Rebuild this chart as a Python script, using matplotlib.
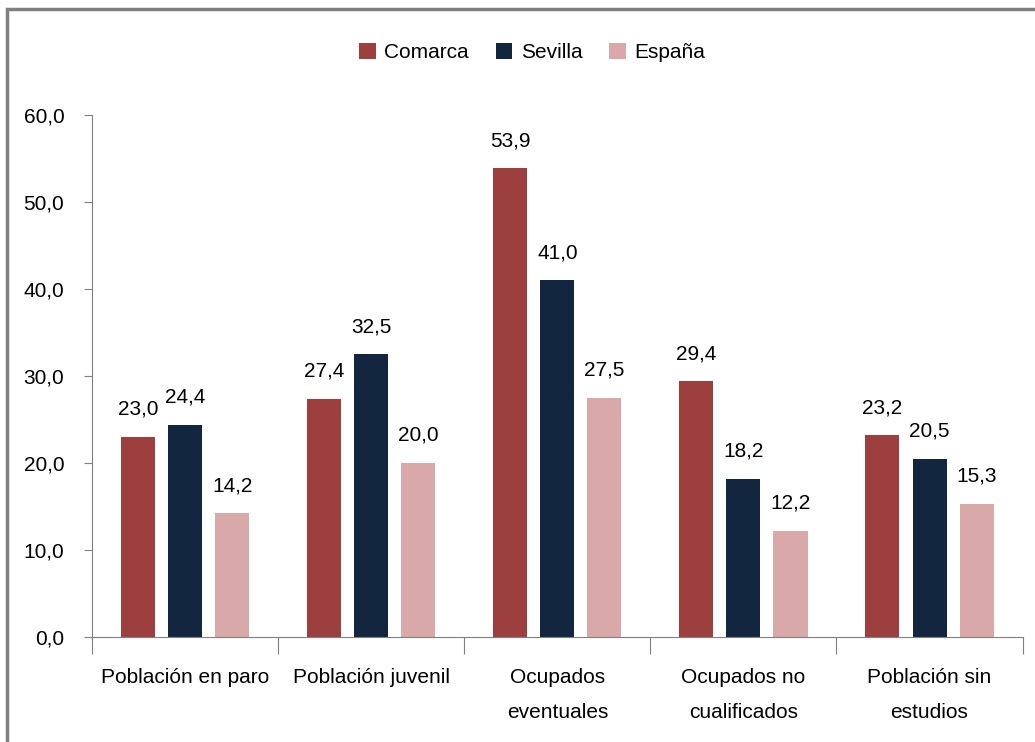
#Grouped bar chart: Comarca vs Sevilla vs España
import numpy as np
import matplotlib.pyplot as plt
from matplotlib.patches import Rectangle

#data
categories = ["Población en paro", "Población juvenil", "Ocupados\neventuales",
              "Ocupados no\ncualificados", "Población sin\nestudios"]
comarca = [23.0, 27.4, 53.9, 29.4, 23.2]
sevilla = [24.4, 32.5, 41.0, 18.2, 20.5]
espana = [14.2, 20.0, 27.5, 12.2, 15.3]
series_names = ["Comarca", "Sevilla", "España"]
colors = ["#9E3F3F", "#13263F", "#D9A9A9"]
yticks = [0, 10, 20, 30, 40, 50, 60]

plt.rcParams['font.family'] = ['Liberation Sans', 'DejaVu Sans']

fig = plt.figure(figsize=(10.35, 7.42), dpi=100)
ax = fig.add_axes([0.089, 0.1415, 0.899, 0.7035])

x = np.arange(len(categories))
width = 0.183
step = 0.253
for i, (vals, name, col) in enumerate(zip([comarca, sevilla, espana], series_names, colors)):
    pos = x + (i - 1) * step
    ax.bar(pos, vals, width, color=col, label=name)
    for px, v in zip(pos, vals):
        ax.annotate(f"{v:.1f}".replace(".", ","), (px, v), xytext=(0, 13),
                    textcoords="offset points", ha="center", va="bottom",
                    fontsize=15, color="black")

ax.set_xlim(-0.5, len(categories) - 0.5)
ax.set_ylim(0, 60)
ax.set_yticks(yticks)
ax.set_yticklabels([f"{t:.1f}".replace(".", ",") for t in yticks], fontsize=15)

#category boundaries as ticks, labels centered
ax.set_xticks(np.arange(-0.5, len(categories), 1.0))
ax.set_xticklabels([])
ax.set_xticks(x, minor=True)
ax.set_xticklabels(categories, minor=True, fontsize=15, linespacing=2.1)
ax.tick_params(axis="x", which="minor", length=0, pad=22)
ax.tick_params(axis="x", which="major", length=12, color="#808080", direction="out")
ax.tick_params(axis="y", length=6, color="#808080", pad=14)

for s in ["top", "right"]:
    ax.spines[s].set_visible(False)
ax.spines["left"].set_color("#808080")
ax.spines["bottom"].set_color("#808080")

ax.legend(loc="center", bbox_to_anchor=(0.473, 1.119), ncol=3, frameon=False,
          fontsize=15, handlelength=0.8, handleheight=0.8, columnspacing=1.3,
          handletextpad=0.4)

#outer chart frame
fig.patches.append(Rectangle((7 / 1035, -0.1), 1.2, (742 - 9) / 742 + 0.1,
                             transform=fig.transFigure, fill=False,
                             edgecolor="#808080", linewidth=2.5))

fig.savefig("out.png", dpi=100)
